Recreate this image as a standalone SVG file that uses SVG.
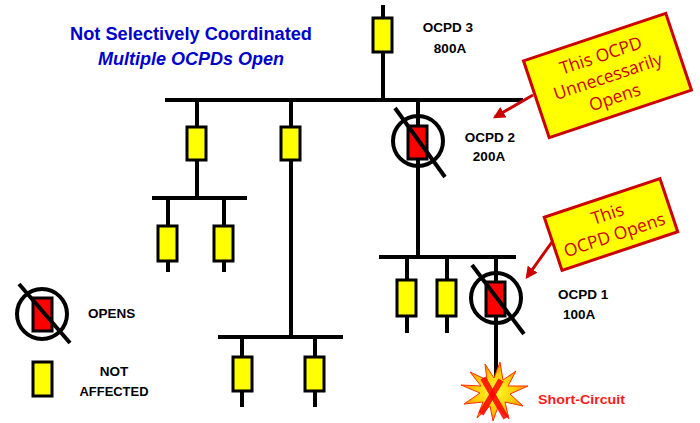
<svg xmlns="http://www.w3.org/2000/svg" width="700" height="423" viewBox="0 0 700 423">
<defs>
<style>
.w{stroke:#000;stroke-width:4;fill:none}
.fy{fill:#ffff00;stroke:#000;stroke-width:3}
.fr{fill:#ff0000;stroke:#000;stroke-width:3}
.ring{fill:none;stroke:#000;stroke-width:4}
.lbl{font-family:"Liberation Sans",Arial,sans-serif;font-weight:bold;font-size:13.5px;fill:#000}
.title{font-family:"Liberation Sans",Arial,sans-serif;font-weight:bold;font-size:17.5px;fill:#0000cc}
.cbox{fill:#ffff00;stroke:#cc0000;stroke-width:3}
.ctxt{font-family:"Open Sans","Liberation Sans",sans-serif;font-size:17.5px;fill:#cc0000;text-anchor:middle}
.arr{stroke:#cc0000;stroke-width:3;fill:none}
</style>
<marker id="ah" viewBox="0 0 10 10" refX="8" refY="5" markerWidth="4" markerHeight="4" orient="auto" markerUnits="strokeWidth">
<path d="M0,0 L10,5 L0,10 z" fill="#cc0000"/>
</marker>
<radialGradient id="boom" cx="0.5" cy="0.5" r="0.5">
<stop offset="0" stop-color="#ffff33"/>
<stop offset="0.6" stop-color="#ffcc00"/>
<stop offset="1" stop-color="#ff8800"/>
</radialGradient>
</defs>
<rect width="700" height="423" fill="#fff"/>

<g id="title">
<text class="title" x="191" y="40" text-anchor="middle" textLength="242" lengthAdjust="spacingAndGlyphs">Not Selectively Coordinated</text>
<text class="title" x="191" y="65" text-anchor="middle" font-style="italic" textLength="186" lengthAdjust="spacingAndGlyphs">Multiple OCPDs Open</text>
</g>

<g id="connectors">
<line class="w" x1="383" y1="5" x2="383" y2="100"/>
<line class="w" x1="165" y1="100" x2="523" y2="100"/>
<line class="w" x1="197" y1="100" x2="197" y2="198"/>
<line class="w" x1="152" y1="198" x2="247" y2="198"/>
<line class="w" x1="168" y1="198" x2="168" y2="272"/>
<line class="w" x1="224" y1="198" x2="224" y2="272"/>
<line class="w" x1="291" y1="100" x2="291" y2="337"/>
<line class="w" x1="218" y1="337" x2="343" y2="337"/>
<line class="w" x1="242" y1="337" x2="242" y2="407"/>
<line class="w" x1="315" y1="337" x2="315" y2="407"/>
<line class="w" x1="418" y1="100" x2="418" y2="257"/>
<line class="w" x1="379" y1="257" x2="516" y2="257"/>
<line class="w" x1="407" y1="257" x2="407" y2="333"/>
<line class="w" x1="447" y1="257" x2="447" y2="333"/>
<line class="w" x1="496" y1="257" x2="496" y2="382"/>
<line class="arr" x1="533" y1="95" x2="495" y2="117" marker-end="url(#ah)"/>
<line class="arr" x1="552" y1="242" x2="527" y2="277" marker-end="url(#ah)"/>
</g>

<g id="ocpd3">
<rect class="fy" x="373" y="18" width="19" height="34"/>
<text class="lbl" x="448" y="32" text-anchor="middle">OCPD 3</text>
<text class="lbl" x="450" y="53" text-anchor="middle">800A</text>
</g>

<g id="fuse-l1"><rect class="fy" x="187" y="127" width="19" height="33"/></g>
<g id="fuse-l2"><rect class="fy" x="281" y="127" width="19" height="33"/></g>
<g id="fuse-s1a"><rect class="fy" x="158" y="226" width="19" height="35"/></g>
<g id="fuse-s1b"><rect class="fy" x="214" y="226" width="19" height="35"/></g>
<g id="fuse-s2a"><rect class="fy" x="233" y="357" width="19" height="34"/></g>
<g id="fuse-s2b"><rect class="fy" x="305" y="357" width="19" height="34"/></g>
<g id="fuse-b2a"><rect class="fy" x="397" y="280" width="19" height="36"/></g>
<g id="fuse-b2b"><rect class="fy" x="437" y="280" width="19" height="36"/></g>

<g id="ocpd2">
<circle class="ring" cx="418" cy="141" r="25"/>
<rect class="fr" x="408" y="126" width="19" height="33"/>
<line class="w" x1="395" y1="108" x2="445" y2="177"/>
<text class="lbl" x="490" y="142" text-anchor="middle">OCPD 2</text>
<text class="lbl" x="489" y="161" text-anchor="middle">200A</text>
</g>

<g id="ocpd1">
<circle class="ring" cx="496" cy="298" r="25"/>
<rect class="fr" x="486" y="282" width="19" height="34"/>
<line class="w" x1="472" y1="265" x2="524" y2="334"/>
<text class="lbl" x="558" y="299">OCPD 1</text>
<text class="lbl" x="563" y="319">100A</text>
</g>

<g id="callout1" transform="translate(607.5,75.5) rotate(-18.5)">
<rect class="cbox" x="-75" y="-40.5" width="150" height="81"/>
<text class="ctxt" x="0" y="-15">This OCPD</text>
<text class="ctxt" x="0" y="7">Unnecessarily</text>
<text class="ctxt" x="0" y="29">Opens</text>
</g>

<g id="callout2" transform="translate(611,224.5) rotate(-18.5)">
<rect class="cbox" x="-61" y="-28" width="122" height="56"/>
<text class="ctxt" x="0" y="-5">This</text>
<text class="ctxt" x="0" y="17">OCPD Opens</text>
</g>

<g id="short-circuit">
<path d="M500,362 L503,380 L516,371 L508,386 L528,386 L510,394 L523,406 L505,402 L509,419 L498,407 L493,421 L490,406 L477,418 L483,402 L464,404 L480,393 L461,385 L481,386 L470,372 L487,380 L485,364 L494,378 Z" fill="url(#boom)" stroke="#ff3300" stroke-width="1"/>
<line x1="483" y1="378" x2="506" y2="418" stroke="#ff0000" stroke-width="6" opacity="0.85"/>
<line x1="501" y1="380" x2="481" y2="414" stroke="#ff0000" stroke-width="6" opacity="0.85"/>
<text class="lbl" x="538" y="404" style="fill:#ff1a1a" textLength="87" lengthAdjust="spacingAndGlyphs">Short-Circuit</text>
</g>

<g id="legend-opens">
<circle class="ring" cx="42" cy="314" r="25"/>
<rect class="fr" x="33" y="298" width="19" height="33"/>
<line class="w" x1="19" y1="284" x2="70" y2="343"/>
<text class="lbl" x="88" y="318">OPENS</text>
</g>

<g id="legend-not-affected">
<rect class="fy" x="33" y="362" width="19" height="34"/>
<text class="lbl" x="114" y="376" text-anchor="middle">NOT</text>
<text class="lbl" x="114" y="396" text-anchor="middle" textLength="69" lengthAdjust="spacingAndGlyphs">AFFECTED</text>
</g>
</svg>
